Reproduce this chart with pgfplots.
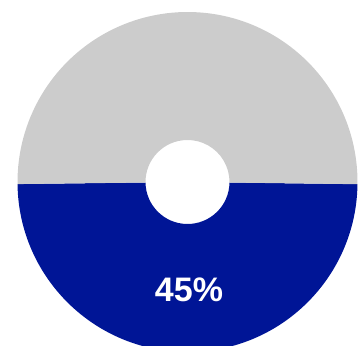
\documentclass[border=0pt]{standalone}
\usepackage{pgfplots}
\usepackage{pgfplotstable}
\pgfplotsset{compat=1.18}
\usetikzlibrary{calc}
\usepackage{fontspec}
\setmainfont{Liberation Sans}
\definecolor{donutblue}{HTML}{001596}
\definecolor{donutgrey}{HTML}{CCCCCC}

\pgfplotstableread{
label value
share 49.6
rest 50.4
}\donutdata

\pgfplotstablegetelem{0}{value}\of\donutdata
\let\vblue\pgfplotsretval
\pgfplotstablegetelem{1}{value}\of\donutdata
\let\vgrey\pgfplotsretval
\pgfmathsetmacro\astart{180.7}
\pgfmathsetmacro\amid{\astart+3.6*\vblue}
\pgfmathsetmacro\aend{\amid+3.6*\vgrey}

\begin{document}
\begin{tikzpicture}
\begin{axis}[
  width=358bp, height=346bp, scale only axis,
  xmin=0, xmax=358, ymin=0, ymax=346,
  hide axis, clip=true,
]
\path (rel axis cs:0,0) rectangle (rel axis cs:1,1);
% blue segment
\fill[donutblue] (axis cs:187.5,164) ++(\astart:170bp)
  arc[start angle=\astart, end angle=\amid, radius=170bp]
  -- ($(axis cs:187.5,164)+(\amid:42bp)$)
  arc[start angle=\amid, end angle=\astart, radius=42bp] -- cycle;
% grey segment
\fill[donutgrey] (axis cs:187.5,164) ++(\amid:170bp)
  arc[start angle=\amid, end angle=\aend, radius=170bp]
  -- ($(axis cs:187.5,164)+(\aend:42bp)$)
  arc[start angle=\aend, end angle=\amid, radius=42bp] -- cycle;
\node[text=white, font=\fontsize{34bp}{36bp}\selectfont\bfseries] at (axis cs:189,56) {45\%};
\end{axis}
\end{tikzpicture}
\end{document}
